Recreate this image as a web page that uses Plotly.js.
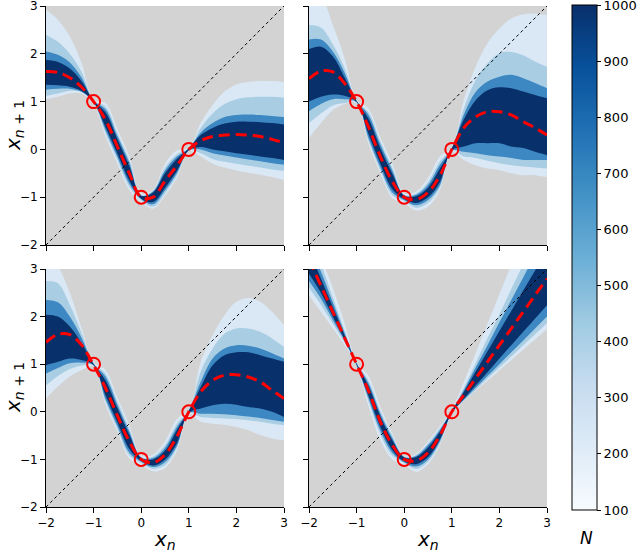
<!DOCTYPE html>
<html>
<head>
<meta charset="utf-8">
<script src="https://cdn.plot.ly/plotly-3.0.1.min.js"></script>
<style>
  body { margin: 0; background: #fff; }
  #chart { width: 640px; height: 552px; }
</style>
</head>
<body>
<div id="chart"></div>
<script>
// x grid shared by every panel
var xs = [-2, -1.75, -1.5, -1.25, -1, -0.75, -0.5, -0.25, 0, 0.25, 0.5, 0.75, 1, 1.25, 1.5, 1.75, 2, 2.25, 2.5, 2.75, 3];
var ticks = [-2, -1, 0, 1, 2, 3];
var diagX = [-2, 3];
var fixedX = [-1, 0, 1];
var fixedY = [1, -1, 0];
var cbTicks = [100, 200, 300, 400, 500, 600, 700, 800, 900, 1000];

// panel 1 (top left)
var p1_mean = [1.63, 1.61, 1.5, 1.3, 1.0, 0.62, 0.06, -0.5, -1.0, -1.0, -0.66, -0.34, 0.0, 0.18, 0.27, 0.3, 0.31, 0.3, 0.27, 0.21, 0.14];
var p1_o_hi = [2.92, 2.71, 2.36, 1.8, 1.03, 0.97, 0.42, -0.15, -0.92, -0.84, -0.3, -0.02, 0.03, 0.55, 0.93, 1.21, 1.36, 1.41, 1.43, 1.43, 1.41];
var p1_o_lo = [1.05, 1.1, 1.17, 1.17, 0.96, 0.27, -0.3, -0.85, -1.1, -1.24, -0.97, -0.6, -0.03, -0.15, -0.3, -0.38, -0.44, -0.49, -0.53, -0.58, -0.64];
var p1_b_hi = [2.4, 2.25, 2.0, 1.62, 1.02, 0.9, 0.34, -0.22, -0.95, -0.86, -0.38, -0.1, 0.02, 0.45, 0.75, 0.95, 1.05, 1.09, 1.1, 1.1, 1.08];
var p1_b_lo = [1.12, 1.17, 1.22, 1.2, 0.98, 0.34, -0.22, -0.78, -1.07, -1.2, -0.92, -0.55, -0.02, -0.08, -0.2, -0.26, -0.3, -0.34, -0.38, -0.42, -0.45];
var p1_c_hi = [2.05, 1.98, 1.82, 1.5, 1.02, 0.84, 0.28, -0.28, -0.97, -0.88, -0.44, -0.15, 0.02, 0.35, 0.55, 0.68, 0.72, 0.73, 0.72, 0.7, 0.68];
var p1_c_lo = [1.25, 1.27, 1.27, 1.2, 0.99, 0.4, -0.16, -0.72, -1.04, -1.15, -0.86, -0.5, -0.02, 0.0, -0.08, -0.13, -0.17, -0.21, -0.25, -0.29, -0.32];
var p1_d_hi = [1.87, 1.83, 1.69, 1.42, 1.01, 0.77, 0.21, -0.35, -0.97, -0.9, -0.5, -0.2, 0.02, 0.3, 0.45, 0.54, 0.58, 0.58, 0.57, 0.55, 0.52];
var p1_d_lo = [1.35, 1.34, 1.31, 1.22, 0.99, 0.47, -0.09, -0.65, -1.03, -1.1, -0.8, -0.45, -0.02, 0.05, 0.0, -0.04, -0.08, -0.11, -0.15, -0.18, -0.22];

// panel 2 (top right)
var p2_mean = [1.48, 1.64, 1.62, 1.38, 1.0, 0.47, -0.15, -0.67, -1.0, -1.05, -0.9, -0.55, 0.0, 0.45, 0.68, 0.79, 0.79, 0.72, 0.58, 0.45, 0.3];
var p2_o_hi = [3.3, 3.2, 2.6, 1.9, 1.03, 0.85, 0.25, -0.3, -0.92, -0.88, -0.6, -0.15, 0.04, 1.03, 1.73, 2.22, 2.53, 2.74, 2.83, 2.84, 2.81];
var p2_o_lo = [0.24, 0.55, 0.82, 0.95, 0.97, 0.12, -0.5, -1.02, -1.12, -1.28, -1.2, -0.85, -0.04, -0.22, -0.33, -0.4, -0.43, -0.5, -0.54, -0.54, -0.58];
var p2_b_hi = [2.6, 2.55, 2.2, 1.7, 1.02, 0.78, 0.17, -0.38, -0.95, -0.92, -0.68, -0.25, 0.03, 0.85, 1.45, 1.8, 2.01, 2.04, 1.97, 1.84, 1.73];
var p2_b_lo = [0.55, 0.75, 0.92, 0.97, 0.99, 0.18, -0.44, -0.96, -1.08, -1.22, -1.12, -0.8, -0.03, -0.15, -0.18, -0.24, -0.29, -0.33, -0.36, -0.38, -0.4];
var p2_c_hi = [2.3, 2.3, 2.05, 1.6, 1.01, 0.72, 0.1, -0.44, -0.96, -0.95, -0.74, -0.32, 0.02, 0.72, 1.2, 1.42, 1.52, 1.56, 1.49, 1.39, 1.28];
var p2_c_lo = [0.8, 0.95, 1.05, 1.05, 0.99, 0.24, -0.38, -0.9, -1.06, -1.17, -1.06, -0.75, -0.02, -0.05, -0.08, -0.12, -0.15, -0.18, -0.22, -0.22, -0.22];
var p2_d_hi = [2.1, 2.15, 1.95, 1.5, 1.01, 0.64, 0.02, -0.51, -0.97, -0.98, -0.8, -0.4, 0.02, 0.62, 1.03, 1.24, 1.3, 1.28, 1.21, 1.14, 1.07];
var p2_d_lo = [1.0, 1.1, 1.15, 1.12, 0.99, 0.32, -0.3, -0.83, -1.04, -1.12, -1.0, -0.68, -0.02, 0.06, 0.13, 0.13, 0.13, 0.06, 0.03, -0.05, -0.12];

// panel 3 (bottom left)
var p3_mean = [1.46, 1.63, 1.62, 1.4, 0.98, 0.5, -0.08, -0.62, -1.0, -1.07, -0.9, -0.52, 0.0, 0.42, 0.66, 0.77, 0.78, 0.73, 0.63, 0.45, 0.28];
var p3_o_hi = [3.3, 3.05, 2.5, 1.75, 1.03, 0.88, 0.3, -0.28, -0.92, -0.9, -0.62, -0.15, 0.04, 1.05, 1.61, 2.03, 2.31, 2.39, 2.31, 2.1, 1.82];
var p3_o_lo = [0.28, 0.53, 0.74, 0.88, 0.95, 0.15, -0.42, -0.98, -1.12, -1.25, -1.18, -0.82, -0.04, -0.21, -0.25, -0.27, -0.32, -0.39, -0.49, -0.56, -0.6];
var p3_b_hi = [2.75, 2.7, 2.25, 1.65, 1.02, 0.8, 0.22, -0.36, -0.95, -0.94, -0.7, -0.25, 0.03, 0.84, 1.33, 1.64, 1.75, 1.75, 1.68, 1.54, 1.36];
var p3_b_lo = [0.55, 0.75, 0.9, 0.97, 0.97, 0.21, -0.36, -0.92, -1.08, -1.2, -1.12, -0.76, -0.03, -0.11, -0.13, -0.14, -0.15, -0.18, -0.21, -0.25, -0.28];
var p3_c_hi = [2.35, 2.3, 2.0, 1.55, 1.01, 0.74, 0.15, -0.42, -0.96, -0.97, -0.76, -0.32, 0.02, 0.63, 1.12, 1.33, 1.4, 1.39, 1.33, 1.23, 1.12];
var p3_c_lo = [0.8, 0.92, 1.02, 1.03, 0.98, 0.27, -0.3, -0.86, -1.05, -1.16, -1.06, -0.72, -0.02, -0.04, -0.04, -0.05, -0.07, -0.1, -0.13, -0.17, -0.21];
var p3_d_hi = [2.04, 2.0, 1.79, 1.44, 1.0, 0.66, 0.08, -0.48, -0.97, -1.0, -0.82, -0.38, 0.02, 0.52, 0.98, 1.19, 1.25, 1.25, 1.19, 1.12, 1.05];
var p3_d_lo = [0.98, 1.05, 1.12, 1.09, 0.98, 0.35, -0.22, -0.78, -1.03, -1.13, -1.0, -0.66, -0.02, 0.07, 0.14, 0.17, 0.15, 0.1, 0.07, 0.0, -0.11];

// panel 4 (bottom right)
var p4_mean = [3.2, 2.65, 2.1, 1.55, 1.0, 0.44, -0.21, -0.7, -1.0, -1.03, -0.86, -0.5, 0.0, 0.35, 0.7, 1.05, 1.4, 1.75, 2.1, 2.45, 2.8];
var p4_o_hi = [3.8, 3.25, 2.6, 1.85, 1.04, 0.75, 0.1, -0.45, -0.93, -0.88, -0.62, -0.3, 0.04, 0.62, 1.23, 1.85, 2.47, 3.09, 3.7, 4.3, 4.9];
var p4_o_lo = [2.45, 2.1, 1.75, 1.4, 0.97, 0.12, -0.6, -1.0, -1.12, -1.26, -1.1, -0.7, -0.04, 0.22, 0.44, 0.65, 0.87, 1.09, 1.31, 1.52, 1.74];
var p4_b_hi = [3.6, 3.1, 2.4, 1.7, 1.03, 0.66, 0.02, -0.5, -0.94, -0.9, -0.66, -0.34, 0.03, 0.5, 1.02, 1.55, 2.05, 2.58, 3.1, 3.6, 4.1];
var p4_b_lo = [2.6, 2.25, 1.85, 1.45, 0.98, 0.22, -0.48, -0.92, -1.08, -1.2, -1.05, -0.66, -0.03, 0.23, 0.46, 0.7, 0.93, 1.16, 1.4, 1.63, 1.86];
var p4_c_hi = [3.5, 2.95, 2.3, 1.65, 1.02, 0.6, -0.04, -0.55, -0.95, -0.93, -0.7, -0.38, 0.02, 0.45, 0.93, 1.4, 1.88, 2.35, 2.82, 3.3, 3.75];
var p4_c_lo = [2.75, 2.38, 1.93, 1.49, 0.98, 0.28, -0.4, -0.86, -1.06, -1.15, -1.0, -0.62, -0.02, 0.25, 0.5, 0.75, 1.0, 1.25, 1.5, 1.75, 2.0];
var p4_d_hi = [3.4, 2.8, 2.2, 1.6, 1.01, 0.54, -0.1, -0.6, -0.96, -0.95, -0.75, -0.42, 0.02, 0.41, 0.84, 1.27, 1.7, 2.12, 2.55, 2.97, 3.4];
var p4_d_lo = [2.9, 2.5, 2.0, 1.52, 0.99, 0.34, -0.32, -0.8, -1.04, -1.1, -0.95, -0.58, -0.02, 0.27, 0.55, 0.83, 1.12, 1.4, 1.68, 1.96, 2.24];

var panels = [
    { mean: p1_mean, bands: [[p1_o_lo, p1_o_hi], [p1_b_lo, p1_b_hi], [p1_c_lo, p1_c_hi], [p1_d_lo, p1_d_hi]] },
    { mean: p2_mean, bands: [[p2_o_lo, p2_o_hi], [p2_b_lo, p2_b_hi], [p2_c_lo, p2_c_hi], [p2_d_lo, p2_d_hi]] },
    { mean: p3_mean, bands: [[p3_o_lo, p3_o_hi], [p3_b_lo, p3_b_hi], [p3_c_lo, p3_c_hi], [p3_d_lo, p3_d_hi]] },
    { mean: p4_mean, bands: [[p4_o_lo, p4_o_hi], [p4_b_lo, p4_b_hi], [p4_c_lo, p4_c_hi], [p4_d_lo, p4_d_hi]] }
];

var bandColors = ['#dae8f5', '#a9cee4', '#3d87c2', '#08306b'];
var blues = [
    [0, '#f7fbff'], [0.125, '#deebf7'], [0.25, '#c6dbef'], [0.375, '#9ecae1'],
    [0.5, '#6baed6'], [0.625, '#4292c6'], [0.75, '#2171b5'], [0.875, '#08519c'], [1, '#08306b']
];
var FONT = 'DejaVu Sans, Arial, sans-serif';

var traces = [];
panels.forEach(function(p, i) {
    var sfx = i === 0 ? '' : String(i + 1);
    var xa = 'x' + sfx, ya = 'y' + sfx;
    p.bands.forEach(function(b, k) {
        traces.push({
            x: xs, y: b[0], xaxis: xa, yaxis: ya, type: 'scatter', mode: 'lines',
            line: { width: 0, shape: 'spline' }, hoverinfo: 'skip', showlegend: false
        });
        traces.push({
            x: xs, y: b[1], xaxis: xa, yaxis: ya, type: 'scatter', mode: 'lines',
            line: { width: 0, shape: 'spline' }, fill: 'tonexty', fillcolor: bandColors[k],
            hoverinfo: 'skip', showlegend: false
        });
    });
    // identity line
    traces.push({
        x: diagX, y: diagX, xaxis: xa, yaxis: ya, type: 'scatter', mode: 'lines',
        line: { color: 'black', width: 1, dash: 'dot' }, showlegend: false
    });
    // mean map
    traces.push({
        x: xs, y: p.mean, xaxis: xa, yaxis: ya, type: 'scatter', mode: 'lines',
        line: { color: 'red', width: 3, dash: '11px,6px', shape: 'spline' }, showlegend: false
    });
    // fixed points
    traces.push({
        x: fixedX, y: fixedY, xaxis: xa, yaxis: ya, type: 'scatter', mode: 'markers',
        marker: { symbol: 'circle-open', size: 13, color: 'red', line: { width: 2, color: 'red' } },
        showlegend: false
    });
});

// dummy trace, only for the colour bar
traces.push({
    x: [-9, -9], y: [-9, -9], xaxis: 'x', yaxis: 'y', type: 'scatter', mode: 'markers',
    marker: {
        color: [100, 1000], cmin: 100, cmax: 1000, colorscale: blues, showscale: true, size: 1,
        colorbar: {
            x: 572 / 640, xanchor: 'left', xpad: 0, ypad: 0,
            y: 1 - 5 / 552, yanchor: 'top', len: 505 / 552, lenmode: 'fraction',
            thickness: 25, thicknessmode: 'pixels',
            outlinewidth: 1, outlinecolor: 'black',
            tickvals: cbTicks, ticks: 'outside', ticklen: 4, tickcolor: 'black',
            ticklabeloverflow: 'allow',
            tickfont: { family: FONT, size: 13, color: 'black' }
        }
    },
    showlegend: false, hoverinfo: 'skip'
});

function axis(domain, anchor, labels) {
    return {
        domain: domain, anchor: anchor, range: [-2, 3], tickvals: ticks,
        showticklabels: labels, ticks: 'outside', ticklen: 5, tickwidth: 1, tickcolor: 'black',
        showline: true, linecolor: 'black', linewidth: 1, showgrid: false, zeroline: false,
        ticklabeloverflow: 'allow',
        tickfont: { family: FONT, size: 12, color: 'black' }, fixedrange: true
    };
}

var xL = [46 / 640, 284 / 640], xR = [309 / 640, 547 / 640];
var yT = [1 - 245 / 552, 1 - 6 / 552], yB = [1 - 507 / 552, 1 - 269 / 552];

var yTitle = '<i>x</i><sub><i>n</i> + 1</sub>';
var xTitle = '<i>x</i><sub><i>n</i></sub>';

function note(text, px, py, angle, size) {
    return {
        text: text, x: px / 640, y: 1 - py / 552, xref: 'paper', yref: 'paper',
        xanchor: 'center', yanchor: 'middle', textangle: angle, showarrow: false,
        font: { family: FONT, size: size, color: 'black' }
    };
}

var layout = {
    width: 640, height: 552,
    margin: { l: 0, r: 0, t: 0, b: 0 },
    paper_bgcolor: 'white',
    plot_bgcolor: '#d3d3d3',
    showlegend: false,
    xaxis: axis(xL, 'y', false), yaxis: axis(yT, 'x', true),
    xaxis2: axis(xR, 'y2', false), yaxis2: axis(yT, 'x2', false),
    xaxis3: axis(xL, 'y3', true), yaxis3: axis(yB, 'x3', true),
    xaxis4: axis(xR, 'y4', true), yaxis4: axis(yB, 'x4', false),
    annotations: [
        note(yTitle, 14, 126, -90, 20),
        note(yTitle, 14, 388, -90, 20),
        note(xTitle, 165, 540, 0, 20),
        note(xTitle, 428, 540, 0, 20),
        note('<i>N</i>', 586, 538, 0, 17)
    ]
};

Plotly.newPlot('chart', traces, layout, { displayModeBar: false, staticPlot: true });
</script>
</body>
</html>
